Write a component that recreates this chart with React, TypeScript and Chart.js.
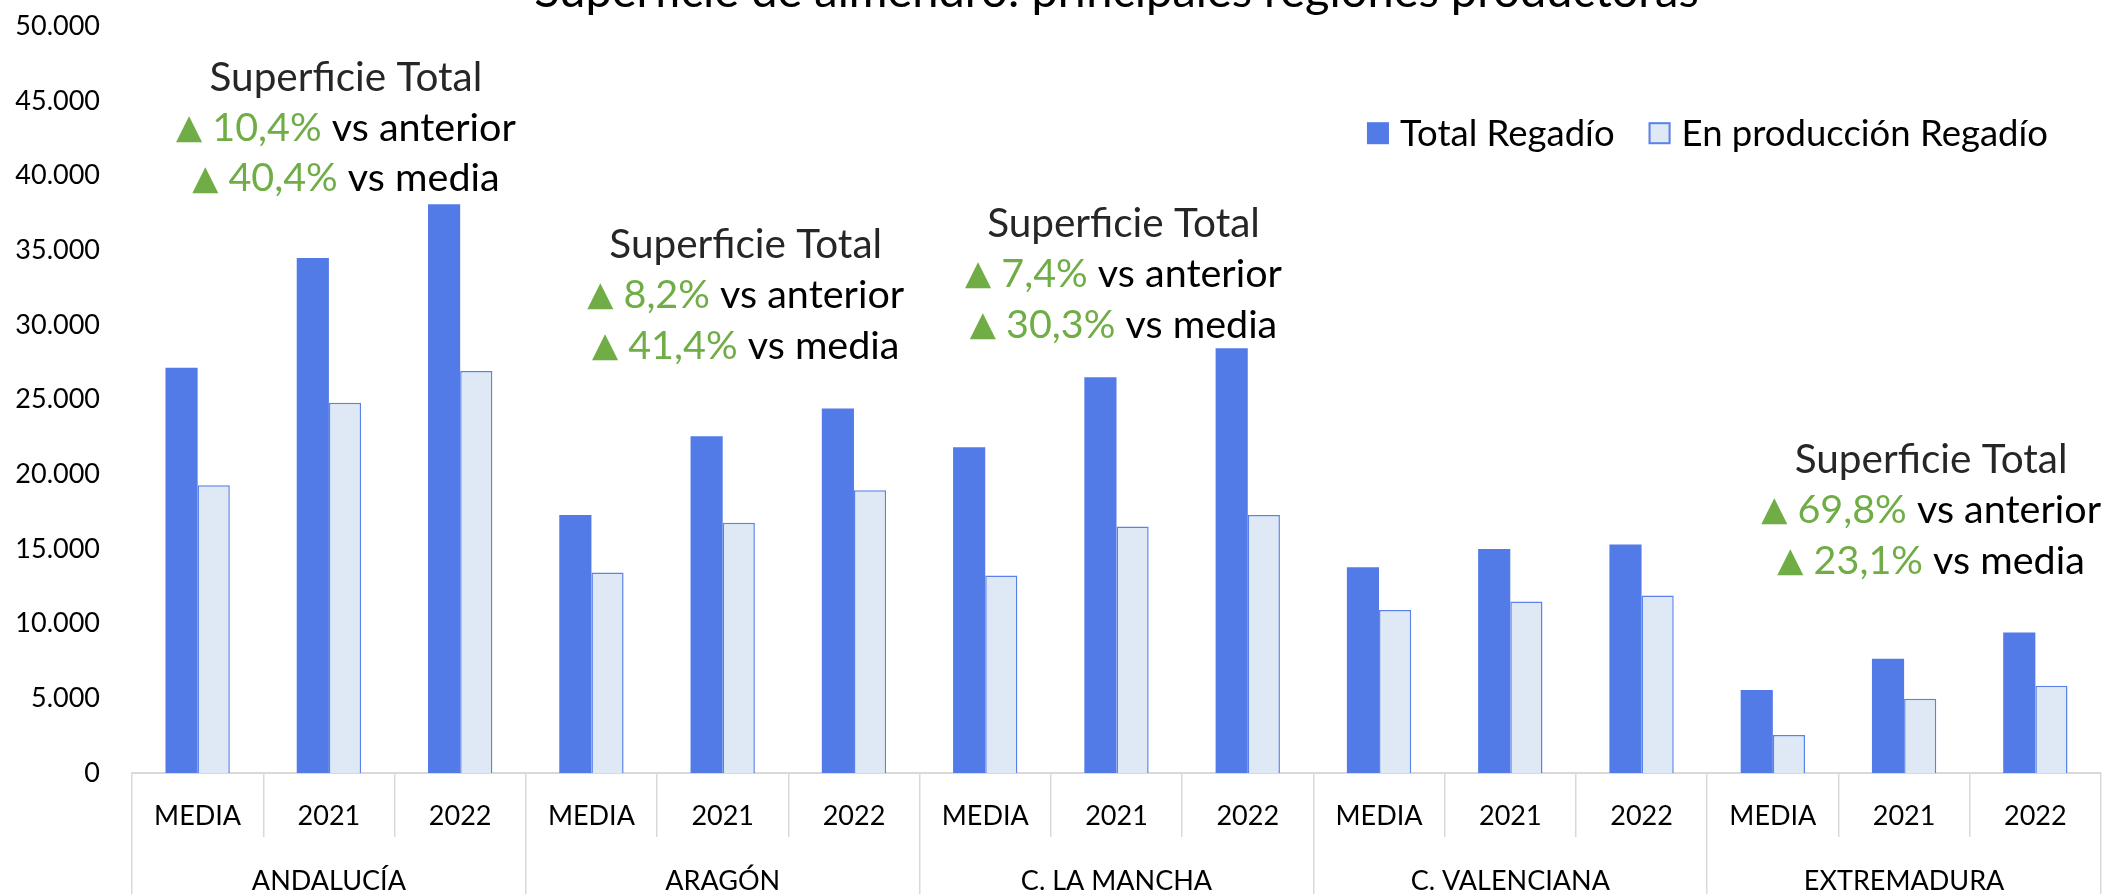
import React, { useEffect, useRef } from "react";
import { Chart, registerables } from "chart.js";

Chart.register(...registerables);

const TITLE = "Superficie de almendro: principales regiones productoras";
const REGIONS = ["ANDALUCÍA", "ARAGÓN", "C. LA MANCHA", "C. VALENCIANA", "EXTREMADURA"];
const PERIODS = ["MEDIA", "2021", "2022"];
const CATEGORIES = REGIONS.flatMap(() => PERIODS);

const SERIES_NAMES = ["Total Regadío", "En producción Regadío"];
const TOTAL_REGADIO = [
  27130, 34480, 38080,
  17270, 22550, 24410,
  21810, 26490, 28440,
  13780, 14990, 15300,
  5550, 7650, 9400,
];
const PRODUCCION_REGADIO = [
  19260, 24790, 26910,
  13420, 16760, 18930,
  13220, 16510, 17270,
  10920, 11480, 11880,
  2550, 4970, 5840,
];

const Y_MIN = 0;
const Y_MAX = 50000;
const Y_STEP = 5000;

const ANNOTATION_HEADER = "Superficie Total";
const ANNOTATION_REGION = [0, 1, 2, 4];
const ANNOTATION_ANTERIOR = ["10,4%", "8,2%", "7,4%", "69,8%"];
const ANNOTATION_MEDIA = ["40,4%", "41,4%", "30,3%", "23,1%"];
// placement of each annotation block (layout only): x offset from group centre, y anchor in axis units
const ANNOTATION_DX = [17, 23, 7, 27];
const ANNOTATION_Y = [46550, 35350, 36750, 20950];

const FONT = "Lato";
const BLUE = "#527BE8";
const LIGHT = "#DEE9F5";
const GREEN = "#70AD47";
const GRID = "#D9D9D9";

const fmt = (v: number) => String(Math.round(v)).replace(/\B(?=(\d{3})+(?!\d))/g, ".");

const overlayPlugin = {
  id: "overlay",
  afterDraw(chart: any) {
    const { ctx, chartArea, scales } = chart;
    const xs = scales.x;
    const ys = scales.y;
    ctx.save();

    // legend
    ctx.font = `36.5px ${FONT}`;
    ctx.textBaseline = "middle";
    const box = 22;
    const gapText = 11;
    const gapItem = 34;
    const widths = SERIES_NAMES.map((n) => ctx.measureText(n).width);
    const total =
      widths.reduce((a, b) => a + b, 0) + SERIES_NAMES.length * (box + gapText) + gapItem * (SERIES_NAMES.length - 1);
    let lx = chartArea.right - 53 - total;
    const ly = chartArea.top + 107;
    chart.data.datasets.forEach((ds: any, i: number) => {
      ctx.fillStyle = ds.backgroundColor;
      ctx.fillRect(lx, ly - box / 2, box, box);
      if (ds.borderWidth) {
        ctx.strokeStyle = ds.borderColor;
        ctx.lineWidth = 2;
        ctx.strokeRect(lx + 1, ly - box / 2 + 1, box - 2, box - 2);
      }
      lx += box + gapText;
      ctx.fillStyle = "#000";
      ctx.textAlign = "left";
      ctx.fillText(SERIES_NAMES[i], lx, ly + 1);
      lx += widths[i] + gapItem;
    });

    // annotations
    const lineGap = 50.5;
    const headFont = `40.5px ${FONT}`;
    const bodyFont = `39.5px ${FONT}`;
    const triFont = `34px "DejaVu Sans"`;
    ANNOTATION_REGION.forEach((r, k) => {
      const cx = xs.getPixelForValue(r * 3 + 1) + ANNOTATION_DX[k];
      const y0 = ys.getPixelForValue(ANNOTATION_Y[k]);
      ctx.textAlign = "left";
      ctx.textBaseline = "middle";
      const lines: [string, string, string][][] = [
        [[ANNOTATION_HEADER, "#262626", headFont]],
        [["▲", GREEN, triFont], [" " + ANNOTATION_ANTERIOR[k], GREEN, bodyFont], [" vs anterior", "#000", bodyFont]],
        [["▲", GREEN, triFont], [" " + ANNOTATION_MEDIA[k], GREEN, bodyFont], [" vs media", "#000", bodyFont]],
      ];
      lines.forEach((parts, li) => {
        const w = parts.reduce((a, p) => {
          ctx.font = p[2];
          return a + ctx.measureText(p[0]).width;
        }, 0);
        let x = cx - w / 2;
        const y = y0 + li * lineGap;
        parts.forEach(([t, c, f]) => {
          ctx.font = f;
          ctx.fillStyle = c;
          ctx.fillText(t, x, y + (f === triFont ? 1 : 0));
          x += ctx.measureText(t).width;
        });
      });
    });

    ctx.restore();
  },
};

export default function App() {
  const ref = useRef<HTMLCanvasElement>(null);

  useEffect(() => {
    const chart = new Chart(ref.current as HTMLCanvasElement, {
      type: "bar",
      data: {
        labels: CATEGORIES,
        datasets: [
          {
            label: SERIES_NAMES[0],
            data: TOTAL_REGADIO,
            xAxisID: "x",
            yAxisID: "y",
            backgroundColor: BLUE,
            borderColor: BLUE,
            borderWidth: 0,
            categoryPercentage: 0.49,
            barPercentage: 1,
          },
          {
            label: SERIES_NAMES[1],
            data: PRODUCCION_REGADIO,
            xAxisID: "x",
            yAxisID: "y",
            backgroundColor: LIGHT,
            borderColor: "#5A82EA",
            borderWidth: 1.5,
            categoryPercentage: 0.49,
            barPercentage: 1,
          },
        ],
      },
      options: {
        responsive: true,
        maintainAspectRatio: false,
        animation: false,
        layout: { padding: { left: 0, right: 8, top: 0, bottom: 0 } },
        plugins: {
          legend: { display: false },
          tooltip: { enabled: false },
          title: {
            display: true,
            text: TITLE,
            fullSize: false,
            color: "#000",
            font: { family: FONT, size: 47, weight: "normal" },
            padding: { top: 0, bottom: 5.8 },
          },
        },
        scales: {
          y: {
            min: Y_MIN,
            max: Y_MAX,
            grid: { display: false, drawTicks: false },
            border: { display: false },
            ticks: {
              stepSize: Y_STEP,
              color: "#000",
              padding: 32,
              font: { family: FONT, size: 27 },
              callback: (v: any) => fmt(Number(v)),
            },
            afterFit: (s: any) => {
              s.width = 132;
            },
          },
          x: {
            type: "category",
            weight: 0,
            offset: true,
            grid: { offset: true, drawOnChartArea: false, drawTicks: true, tickLength: 64, color: GRID, lineWidth: 1.5 },
            border: { display: true, color: GRID, width: 2 },
            ticks: {
              color: "#000",
              padding: -37,
              autoSkip: false,
              maxRotation: 0,
              font: { family: FONT, size: 27 },
            },
            afterFit: (s: any) => {
              s.height = 64;
            },
          },
          x2: {
            type: "category",
            position: "bottom",
            weight: 1,
            labels: REGIONS,
            offset: true,
            grid: { offset: true, drawOnChartArea: false, drawTicks: true, tickLength: 70, color: GRID, lineWidth: 1.5 },
            border: { display: false },
            ticks: {
              color: "#000",
              padding: -42,
              autoSkip: false,
              maxRotation: 0,
              font: { family: FONT, size: 27 },
            },
            afterFit: (s: any) => {
              s.height = 57;
            },
          },
        },
      } as any,
      plugins: [overlayPlugin],
    });
    return () => chart.destroy();
  }, []);

  return (
    <div style={{ position: "fixed", left: 0, top: 0, width: 2109, height: 894, overflow: "hidden", background: "#fff" }}>
      <div style={{ position: "absolute", left: 0, top: -36, width: 2109, height: 930 }}>
        <canvas ref={ref} />
      </div>
    </div>
  );
}
